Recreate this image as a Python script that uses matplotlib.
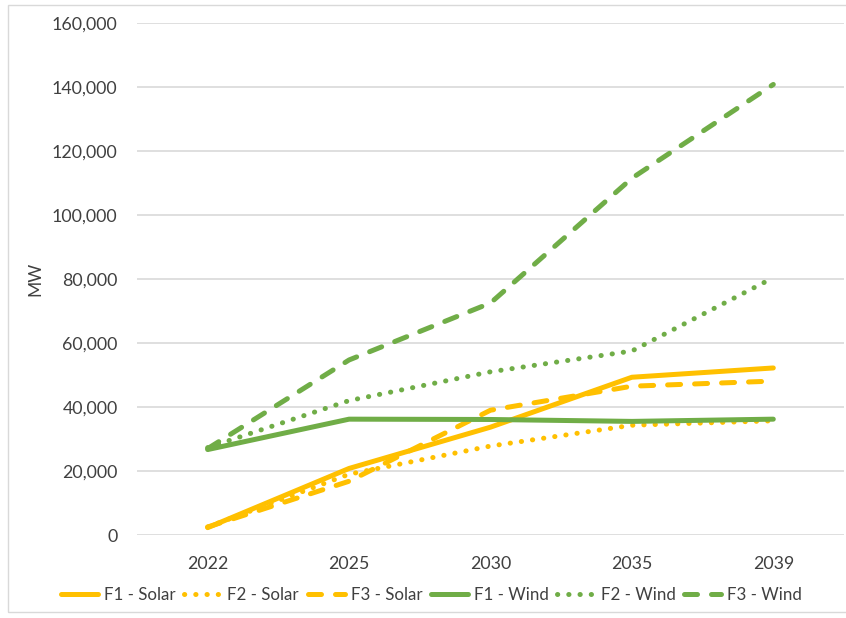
import matplotlib.pyplot as plt
from matplotlib.patches import Rectangle
from matplotlib.ticker import FuncFormatter

years = ['2022', '2025', '2030', '2035', '2039']

f1_solar = [2300, 20800, 33700, 49300, 52200]
f2_solar = [2500, 19000, 27800, 34300, 35700]
f3_solar = [2500, 16800, 39000, 46500, 48100]
f1_wind = [26700, 36200, 36100, 35500, 36200]
f2_wind = [27300, 42000, 51000, 57500, 80400]
f3_wind = [27000, 54700, 72500, 111500, 140800]

yellow = '#FFC000'
green = '#70AD47'
txt = '#404040'

plt.rcParams['font.family'] = ['Lato', 'DejaVu Sans']

fig = plt.figure(figsize=(8.46, 6.18), dpi=100)
ax = fig.add_axes([137 / 846, 1 - 535 / 618, 707 / 846, 512 / 618])

x = range(len(years))
lw = 3.6
dot = dict(dashes=(0.05, 2.2), dash_capstyle='round')
dash = dict(dashes=(2.6, 2.8), dash_capstyle='round')

ax.plot(x, f1_solar, color=yellow, lw=lw, solid_capstyle='round', label='F1 - Solar')
ax.plot(x, f2_solar, color=yellow, lw=lw, label='F2 - Solar', **dot)
ax.plot(x, f3_solar, color=yellow, lw=lw, label='F3 - Solar', **dash)
ax.plot(x, f1_wind, color=green, lw=lw, solid_capstyle='round', label='F1 - Wind')
ax.plot(x, f2_wind, color=green, lw=lw, label='F2 - Wind', **dot)
ax.plot(x, f3_wind, color=green, lw=lw, label='F3 - Wind', **dash)

ax.set_xlim(-0.5, len(years) - 0.5)
ax.set_ylim(0, 160000)
ax.set_yticks(range(0, 160001, 20000))
ax.yaxis.set_major_formatter(FuncFormatter(lambda v, p: '{:,.0f}'.format(v)))
ax.set_xticks(list(x))
ax.set_xticklabels(years)
ax.grid(axis='y', color='#D9D9D9', lw=1.2)
ax.set_axisbelow(True)
for s in ax.spines.values():
    s.set_visible(False)
ax.tick_params(length=0, labelsize=12.8, colors=txt)
ax.tick_params(axis='y', pad=14)
ax.tick_params(axis='x', pad=15)
ax.set_ylabel('MW', fontsize=12.5, color=txt, labelpad=6)

leg = fig.legend(loc='center', bbox_to_anchor=(0.51, 1 - 595 / 618), ncol=6,
                 frameon=False, fontsize=12.2, handlelength=2.2, handletextpad=0.35,
                 columnspacing=0.5, labelcolor=txt)

fig.patches.append(Rectangle((8 / 846, 6 / 618), 1.0, 1 - 11 / 618, transform=fig.transFigure,
                             fill=False, edgecolor='#D9D9D9', lw=1))

fig.savefig('out.png', dpi=100)
